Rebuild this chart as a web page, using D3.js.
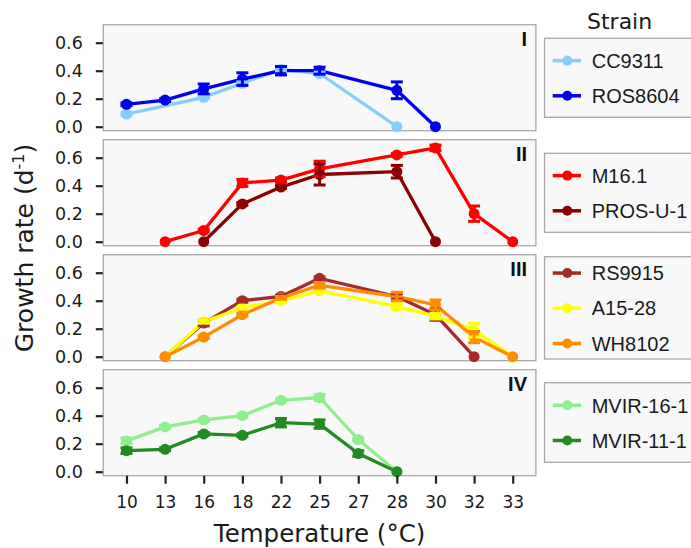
<!DOCTYPE html>
<html>
<head>
<meta charset="utf-8">
<script src="https://cdn.jsdelivr.net/npm/d3@7"></script>
<style>
  body { margin: 0; background: #fff; }
  svg { display: block; }
</style>
</head>
<body>
<div id="chart"></div>
<script>
// temperatures (categorical x axis)
var temps = ['10', '13', '16', '18', '22', '25', '27', '28', '30', '32', '33'];
var yTicks = [0, 0.2, 0.4, 0.6];
var panelLabels = ['I', 'II', 'III', 'IV'];

// growth rates per strain, null = not measured
var cc9311      = [0.09, null, 0.21, 0.31, 0.41, 0.38, null, 0.00, null, null, null];
var cc9311Err   = [0.01, null, 0.01, 0.01, 0.01, 0.01, null, 0.00, null, null, null];
var ros8604     = [0.16, 0.19, 0.27, 0.34, 0.40, 0.40, null, 0.26, 0.00, null, null];
var ros8604Err  = [0.01, 0.01, 0.035, 0.045, 0.03, 0.025, null, 0.06, 0.00, null, null];

var m161        = [null, 0.00, 0.08, 0.42, 0.44, 0.52, null, 0.62, 0.67, 0.20, 0.00];
var m161Err     = [null, 0.00, 0.01, 0.025, 0.015, 0.055, null, 0.01, 0.02, 0.055, 0.00];
var prosU1      = [null, null, 0.00, 0.27, 0.39, 0.48, null, 0.50, 0.00, null, null];
var prosU1Err   = [null, null, 0.00, 0.01, 0.01, 0.075, null, 0.045, 0.00, null, null];

var rs9915      = [null, 0.00, 0.24, 0.40, 0.43, 0.56, null, 0.43, 0.30, 0.00, null];
var rs9915Err   = [null, 0.00, 0.02, 0.01, 0.01, 0.01, null, 0.02, 0.04, 0.00, null];
var a1528       = [null, 0.00, 0.25, 0.35, 0.40, 0.47, null, 0.36, 0.29, 0.19, 0.00];
var a1528Err    = [null, 0.00, 0.01, 0.01, 0.01, 0.01, null, 0.02, 0.02, 0.05, 0.00];
var wh8102      = [null, 0.00, 0.14, 0.30, 0.42, 0.51, null, 0.43, 0.37, 0.14, 0.00];
var wh8102Err   = [null, 0.00, 0.01, 0.01, 0.01, 0.02, null, 0.03, 0.035, 0.04, 0.00];

var mvir161     = [0.22, 0.32, 0.37, 0.40, 0.51, 0.53, 0.23, 0.00, null, null, null];
var mvir161Err  = [0.02, 0.01, 0.01, 0.01, 0.01, 0.02, 0.01, 0.00, null, null, null];
var mvir111     = [0.15, 0.16, 0.27, 0.26, 0.35, 0.34, 0.13, 0.00, null, null, null];
var mvir111Err  = [0.02, 0.01, 0.01, 0.01, 0.03, 0.03, 0.02, 0.00, null, null, null];

var panels = [
    [{name: 'CC9311', color: '#87CEFA', v: cc9311, e: cc9311Err},
     {name: 'ROS8604', color: '#0000EE', v: ros8604, e: ros8604Err}],
    [{name: 'M16.1', color: '#FF0000', v: m161, e: m161Err},
     {name: 'PROS-U-1', color: '#8B0000', v: prosU1, e: prosU1Err}],
    [{name: 'RS9915', color: '#A52A2A', v: rs9915, e: rs9915Err},
     {name: 'A15-28', color: '#FFFF00', v: a1528, e: a1528Err},
     {name: 'WH8102', color: '#FF8C00', v: wh8102, e: wh8102Err}],
    [{name: 'MVIR-16-1', color: '#90EE90', v: mvir161, e: mvir161Err},
     {name: 'MVIR-11-1', color: '#228B22', v: mvir111, e: mvir111Err}]
];

var width = 691,
    height = 548;

var left = 103.3,
    right = 535.9,
    panelTops = [24.7, 139.7, 254.7, 369.7],
    panelH = 106;

// legend boxes [top, bottom]
var legendBoxes = [[38.3, 117.3], [153.3, 232.3], [256.7, 359], [382.7, 462.3]];

var svg = d3.select('#chart')
    .append('svg')
        .attr('width', width)
        .attr('height', height);

var x = d3.scalePoint()
    .domain(temps)
    .range([left, right])
    .padding(0.6);

var line = d3.line()
    .x(function (d) { return x(d.t); })
    .y(function (d) { return d.y; });

panels.forEach(function (series, p) {
    var top = panelTops[p];
    var y = d3.scaleLinear()
        .domain([0, 0.6])
        .range([top + 102, top + 18]);

    svg.append('rect')
        .attr('x', left)
        .attr('y', top)
        .attr('width', right - left)
        .attr('height', panelH)
        .attr('fill', '#F8F8F8')
        .attr('stroke', '#A8A8A8')
        .attr('stroke-width', 1.3);

    // y axis
    var yAxis = svg.append('g')
        .attr('transform', 'translate(' + (left - 0.5) + ',0)')
        .call(d3.axisLeft(y).tickValues(yTicks).tickFormat(d3.format('.1f'))
            .tickSize(7).tickPadding(13));
    yAxis.select('.domain').remove();
    yAxis.selectAll('line').attr('stroke', '#222').attr('stroke-width', 2.2);
    yAxis.selectAll('text')
        .attr('fill', '#1a1a1a')
        .style('font-family', 'DejaVu Sans')
        .style('font-size', '17.5px');

    var g = svg.append('g');

    // points with values
    var pts = series.map(function (s) {
        return s.v.map(function (v, i) {
            return {t: temps[i], v: v, e: s.e[i], y: v == null ? 0 : y(v), color: s.color};
        }).filter(function (d) { return d.v != null; });
    });

    // lines
    series.forEach(function (s, k) {
        g.append('path')
            .datum(pts[k])
            .attr('d', line)
            .attr('fill', 'none')
            .attr('stroke', s.color)
            .attr('stroke-width', 3.3)
            .attr('stroke-linejoin', 'round');
    });

    // points
    series.forEach(function (s, k) {
        g.selectAll(null)
            .data(pts[k])
            .enter()
            .append('circle')
                .attr('cx', function (d) { return x(d.t); })
                .attr('cy', function (d) { return d.y; })
                .attr('r', 5.5)
                .attr('fill', s.color);
    });

    // error bars
    series.forEach(function (s, k) {
        var eb = g.selectAll(null)
            .data(pts[k].filter(function (d) { return d.e > 0; }))
            .enter()
            .append('g')
                .attr('stroke', s.color)
                .attr('stroke-width', 3);
        eb.append('line')
            .attr('x1', function (d) { return x(d.t); })
            .attr('x2', function (d) { return x(d.t); })
            .attr('y1', function (d) { return y(d.v - d.e); })
            .attr('y2', function (d) { return y(d.v + d.e); });
        eb.append('line')
            .attr('x1', function (d) { return x(d.t) - 6; })
            .attr('x2', function (d) { return x(d.t) + 6; })
            .attr('y1', function (d) { return y(d.v - d.e); })
            .attr('y2', function (d) { return y(d.v - d.e); });
        eb.append('line')
            .attr('x1', function (d) { return x(d.t) - 6; })
            .attr('x2', function (d) { return x(d.t) + 6; })
            .attr('y1', function (d) { return y(d.v + d.e); })
            .attr('y2', function (d) { return y(d.v + d.e); });
    });

    // panel label
    svg.append('text')
        .attr('x', 527)
        .attr('y', top + 21.3)
        .attr('text-anchor', 'end')
        .style('font-family', 'Liberation Sans, Arial')
        .style('font-weight', 'bold')
        .style('font-size', '20px')
        .attr('fill', '#111')
        .text(panelLabels[p]);

    // legend box
    var lb = legendBoxes[p];
    svg.append('rect')
        .attr('x', 544.5)
        .attr('y', lb[0])
        .attr('width', 160)
        .attr('height', lb[1] - lb[0])
        .attr('fill', '#F8F8F8')
        .attr('stroke', '#A8A8A8')
        .attr('stroke-width', 1.3);

    var mid = (lb[0] + lb[1]) / 2 + 0.4;
    var items = svg.selectAll(null)
        .data(series)
        .enter()
        .append('g')
            .attr('transform', function (d, i) {
                return 'translate(0,' + (mid + (i - (series.length - 1) / 2) * 35.2) + ')';
            });
    items.append('line')
        .attr('x1', 552.7)
        .attr('x2', 581)
        .attr('stroke', function (d) { return d.color; })
        .attr('stroke-width', 3.5);
    items.append('circle')
        .attr('cx', 567.3)
        .attr('r', 5)
        .attr('fill', function (d) { return d.color; });
    items.append('text')
        .attr('x', 591.7)
        .attr('dy', '0.36em')
        .style('font-family', 'Liberation Sans, Arial')
        .style('font-size', '20px')
        .attr('fill', '#1a1a1a')
        .text(function (d) { return d.name; });
});

// x axis under the last panel
var xAxis = svg.append('g')
    .attr('transform', 'translate(0,' + (panelTops[3] + panelH) + ')')
    .call(d3.axisBottom(x).tickSize(8).tickPadding(12));
xAxis.select('.domain').remove();
xAxis.selectAll('line').attr('stroke', '#222').attr('stroke-width', 2.2);
xAxis.selectAll('text')
    .attr('fill', '#1a1a1a')
    .style('font-family', 'DejaVu Sans')
    .style('font-size', '17px');

// axis titles
svg.append('text')
    .attr('x', (left + right) / 2)
    .attr('y', 541.5)
    .attr('text-anchor', 'middle')
    .style('font-family', 'DejaVu Sans')
    .style('font-size', '24.5px')
    .attr('fill', '#1a1a1a')
    .text('Temperature (°C)');

var yTitle = svg.append('text')
    .attr('transform', 'translate(33,248) rotate(-90)')
    .attr('text-anchor', 'middle')
    .style('font-family', 'DejaVu Sans')
    .style('font-size', '25px')
    .attr('fill', '#1a1a1a');
yTitle.append('tspan').text('Growth rate (d');
yTitle.append('tspan').attr('dy', '-9').style('font-size', '16px').text('-1');
yTitle.append('tspan').attr('dy', '9').text(')');

// legend title
svg.append('text')
    .attr('x', 587)
    .attr('y', 29.3)
    .style('font-family', 'DejaVu Sans')
    .style('font-size', '22px')
    .attr('fill', '#1a1a1a')
    .text('Strain');
</script>
</body>
</html>
